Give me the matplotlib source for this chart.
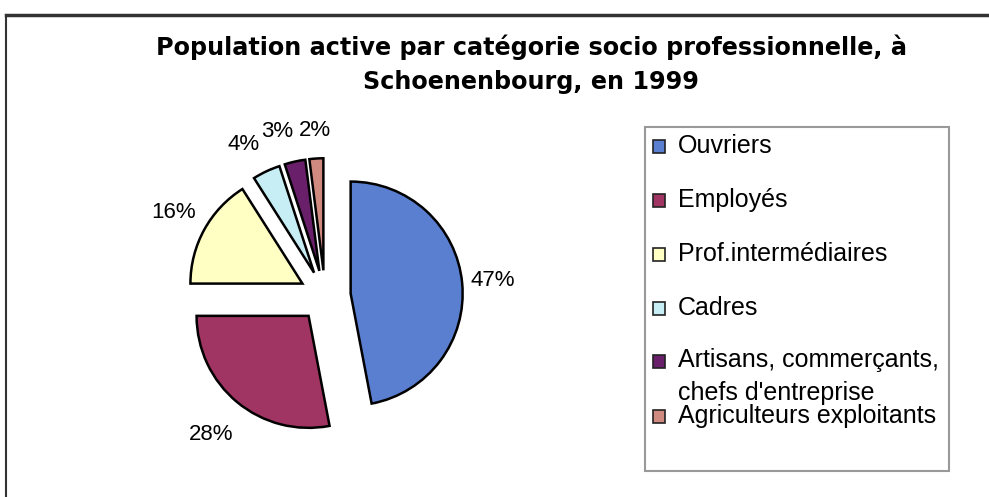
import matplotlib
matplotlib.use("Agg")
import numpy as np
import matplotlib.pyplot as plt
from matplotlib.patches import Rectangle
from matplotlib.lines import Line2D

plt.rcParams['font.family'] = ['Liberation Sans', 'DejaVu Sans']

categories = ["Ouvriers", "Employés", "Prof.intermédiaires", "Cadres",
              "Artisans, commerçants,\nchefs d'entreprise", "Agriculteurs exploitants"]
shares = [47, 28, 16, 4, 3, 2]
colors = ["#5a7fd0", "#a03462", "#ffffc4", "#c8eef5", "#6a1f6a", "#d08a80"]

# label placement around the pie: distance from centre, angle nudge (deg)
label_dist = [1.50, 1.60, 1.54, 1.53, 1.53, 1.48]
label_turn = [0, 0, 0, 3, 3.5, 0]
# legend baselines of each entry's first line, in pixels from the top
legend_rows = [153, 207, 261, 315, 368, 423]
line_gap = 32

W, H = 989, 497
fig = plt.figure(figsize=(W / 100, H / 100), dpi=100)

# outer frame: top and left edges only
fig.add_artist(Line2D([6 / W, 1], [1 - 15 / H, 1 - 15 / H], color="#333333", lw=2.5))
fig.add_artist(Line2D([6 / W, 6 / W], [0, 1 - 15 / H], color="#333333", lw=1.5))

title_font = dict(ha="center", va="baseline", fontsize=17.2, fontweight="bold",
                  family=["DejaVu Sans"])
fig.text(531 / W, 1 - 55 / H, "Population active par catégorie socio professionnelle, à",
         **title_font)
fig.text(531 / W, 1 - 89 / H, "Schoenenbourg, en 1999", **title_font)

# pie: centre at (325, 296) px, radius 112 px
unit = 112
half = 1.75
cx, cy = 325, H - 296
ax = fig.add_axes([(cx - half * unit) / W, (cy - half * unit) / H,
                   2 * half * unit / W, 2 * half * unit / H])
wedges, _ = ax.pie(shares, colors=colors, startangle=90, counterclock=False,
                   explode=[0.23] * len(shares), radius=1,
                   wedgeprops=dict(edgecolor="black", linewidth=1.8))
ax.set_xlim(-half, half)
ax.set_ylim(-half, half)
ax.set_aspect("equal")
ax.axis("off")

for w, v, d, t in zip(wedges, shares, label_dist, label_turn):
    mid = np.deg2rad((w.theta1 + w.theta2) / 2 + t)
    ax.text(d * np.cos(mid), d * np.sin(mid), f"{v}%", ha="center", va="center",
            fontsize=16, clip_on=False)

# legend box
lx0, lx1, ly0, ly1 = 645, 949, 127, 471
fig.add_artist(Rectangle((lx0 / W, 1 - ly1 / H), (lx1 - lx0) / W, (ly1 - ly0) / H,
                         transform=fig.transFigure, facecolor="white",
                         edgecolor="#999999", lw=1.5))
for name, col, y in zip(categories, colors, legend_rows):
    base = 1 - y / H
    fig.add_artist(Rectangle((653 / W, base), 12 / W, 13 / H,
                             transform=fig.transFigure, facecolor=col,
                             edgecolor="#222222", lw=1.2))
    # baseline alignment follows the last line, so push multi-line labels down
    n_extra = name.count("\n")
    fig.text(678 / W, base - n_extra * line_gap / H, name, ha="left", va="baseline",
             fontsize=18, linespacing=1.45)

fig.savefig("out.png", dpi=100)
